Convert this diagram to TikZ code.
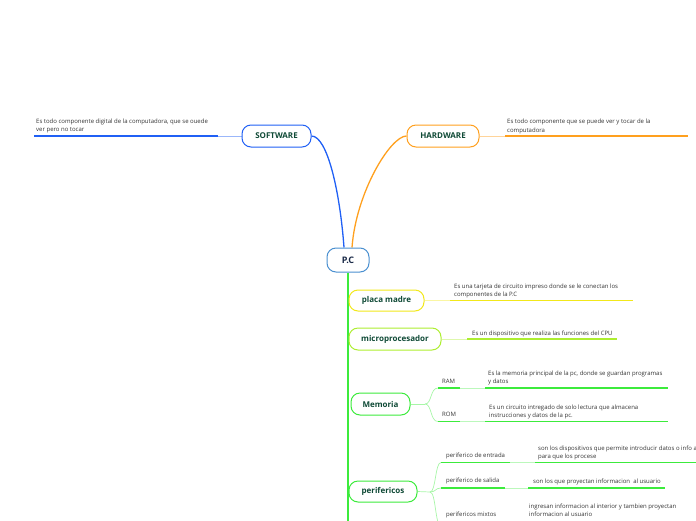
\documentclass[tikz,border=0pt]{standalone}
\usepackage{fontspec}
\setmainfont{Open Sans}
\usetikzlibrary{backgrounds}
\definecolor{cblue}{HTML}{2060F5}
\definecolor{corange}{HTML}{FFA01E}
\definecolor{pcblue}{HTML}{4A90D0}
\definecolor{cyellow}{HTML}{F2E81A}
\definecolor{cyg}{HTML}{ADEE30}
\definecolor{cgreen}{HTML}{3CEB3C}
\definecolor{tgreen}{HTML}{0F4A36}
\definecolor{tnavy}{HTML}{1A2A48}
\definecolor{dgray}{HTML}{333333}
\begin{document}
\begin{tikzpicture}[x=1pt,y=-1pt,
  topic/.style={draw, rounded corners=9pt, line width=1pt, fill=white,
    font=\bfseries\fontsize{8}{10}\selectfont, text=tgreen, minimum height=22pt, inner sep=0pt},
  desc/.style={anchor=north west, inner sep=0pt, align=left, font=\fontsize{6}{8.5}\selectfont, text=dgray},
  lab/.style={anchor=base west, inner sep=0pt, font=\fontsize{6}{8}\selectfont, text=dgray},
  thin/.style={line width=0.7pt},
  thick2/.style={line width=1.7pt}]
\useasboundingbox (0,0) rectangle (696,520);
\clip (0,0) rectangle (696,520);

% nodes
\node[topic, draw=pcblue, minimum width=42pt, minimum height=24pt,
  font=\bfseries\fontsize{9}{11}\selectfont, text=tnavy] (pc) at (348,260) {P.C};
\node[topic, draw=cblue, minimum width=69pt] (sw) at (276.5,136) {SOFTWARE};
\node[topic, draw=corange, minimum width=72pt] (hw) at (443,136) {HARDWARE};
\node[topic, draw=cyellow, minimum width=75pt, minimum height=21pt] (pm) at (386.5,300.5) {placa madre};
\node[topic, draw=cyg, minimum width=92pt] (mp) at (395,339) {microprocesador};
\node[topic, draw=cgreen, minimum width=59pt] (mem) at (380.5,404) {Memoria};
\node[topic, draw=cgreen, minimum width=68pt, minimum height=21pt] (per) at (383,491.5) {perifericos};

% texts
\node[desc] (swd) at (36,118.5) {Es todo componente digital de la computadora, que se ouede\\ver pero no tocar};
\node[desc] (hwd) at (507,119) {Es todo componente que se puede ver y tocar de la\\computadora};
\node[desc] (pmd) at (454,283.5) {Es una tarjeta de circuito impreso donde se le conectan los\\componentes de la P.C};
\node[desc] (mpd) at (472,330.5) {Es un dispositivo que realiza las funciones del CPU};
\node[lab] (ram) at (442,383.5) {RAM};
\node[lab] (rom) at (442,416.5) {ROM};
\node[desc] (ramd) at (488,370.5) {Es la memoria principal de la pc, donde se guardan programas\\y datos};
\node[desc] (romd) at (489,404.5) {Es un circuito intregado de solo lectura que almacena\\instrucciones y datos de la pc.};
\node[lab] (pe) at (446,457) {periferico de entrada};
\node[lab] (ps) at (446,482.5) {periferico de salida};
\node[lab] (pmx) at (446,516.5) {perifericos mixtos};
\node[desc] (ped) at (538,445.5) {son los dispositivos que permite introducir datos o info a\\para que los procese};
\node[desc] (psd) at (533,478.5) {son los que proyectan informacion~ al usuario};
\node[desc] (pmxd) at (529,503.5) {ingresan informacion al interior y tambien proyectan\\informacion al usuario};

% coordinates
\coordinate (swa) at (218,136); \coordinate (swb) at (34,136);
\coordinate (hwa) at (505,136); \coordinate (hwb) at (688,136);
\coordinate (pma) at (450,300.5); \coordinate (pmb) at (633,300.5);
\coordinate (mpa) at (467,339); \coordinate (mpb) at (617,339);
\coordinate (tb) at (348,530);
\coordinate (mj) at (425,404);
\coordinate (r1) at (438,388); \coordinate (r2) at (460,388); \coordinate (r3) at (485,388); \coordinate (r4) at (668,388);
\coordinate (o1) at (438,421.5); \coordinate (o2) at (460,421.5); \coordinate (o3) at (485,421.5); \coordinate (o4) at (668,421.5);
\coordinate (pj) at (430,492);
\coordinate (e1) at (441,462.5); \coordinate (e2) at (510,462.5); \coordinate (e3) at (535,462.5); \coordinate (e4) at (700,462.5);
\coordinate (s1) at (441,488); \coordinate (s2) at (505,488); \coordinate (s3) at (528,488); \coordinate (s4) at (665,488);
\coordinate (x1) at (441,526); \coordinate (x2) at (505,526);

\begin{scope}[on background layer]
% main curves
\draw[cblue, line width=1.3pt] (sw.east) .. controls +(16,0) and +(-4,-55) .. ([xshift=-4pt]pc.north);
\draw[corange, line width=1.3pt] (hw.west) .. controls +(-16,0) and +(4,-55) .. ([xshift=4pt]pc.north);
\draw[cgreen, line width=2pt] (pc.south) -- (tb);
% software / hardware
\draw[cblue!45, thin] (sw.west) -- (swa);
\draw[cblue, thick2] (swa) -- (swb);
\draw[corange!45, thin] (hw.east) -- (hwa);
\draw[corange, thick2] (hwa) -- (hwb);
% placa madre / micro
\draw[cyellow!40, thin] (pm.east) -- (pma);
\draw[cyellow, thick2] (pma) -- (pmb);
\draw[cyg!40, thin] (mp.east) -- (mpa);
\draw[cyg, thick2] (mpa) -- (mpb);
% memoria
\draw[cgreen!45, thin] (mem.east) -- (mj);
\draw[cgreen!45, thin] (mj) .. controls +(7,0) and +(-8,0) .. (r1);
\draw[cgreen!45, thin] (mj) .. controls +(7,0) and +(-8,0) .. (o1);
\draw[cgreen, thick2] (r1) -- (r2);
\draw[cgreen!35, thin] (r2) -- (r3);
\draw[cgreen, thick2] (r3) -- (r4);
\draw[cgreen, thick2] (o1) -- (o2);
\draw[cgreen!35, thin] (o2) -- (o3);
\draw[cgreen, thick2] (o3) -- (o4);
% perifericos
\draw[cgreen!45, thin] (per.east) -- (pj);
\draw[cgreen!45, thin] (pj) .. controls +(6,0) and +(-6,0) .. (e1);
\draw[cgreen!45, thin] (pj) .. controls +(6,0) and +(-6,0) .. (s1);
\draw[cgreen!45, thin] (pj) .. controls +(6,0) and +(-6,0) .. (x1);
\draw[cgreen, thick2] (e1) -- (e2);
\draw[cgreen!35, thin] (e2) -- (e3);
\draw[cgreen, thick2] (e3) -- (e4);
\draw[cgreen, thick2] (s1) -- (s2);
\draw[cgreen!35, thin] (s2) -- (s3);
\draw[cgreen, thick2] (s3) -- (s4);
\draw[cgreen, thick2] (x1) -- (x2);
\end{scope}
\end{tikzpicture}
\end{document}
